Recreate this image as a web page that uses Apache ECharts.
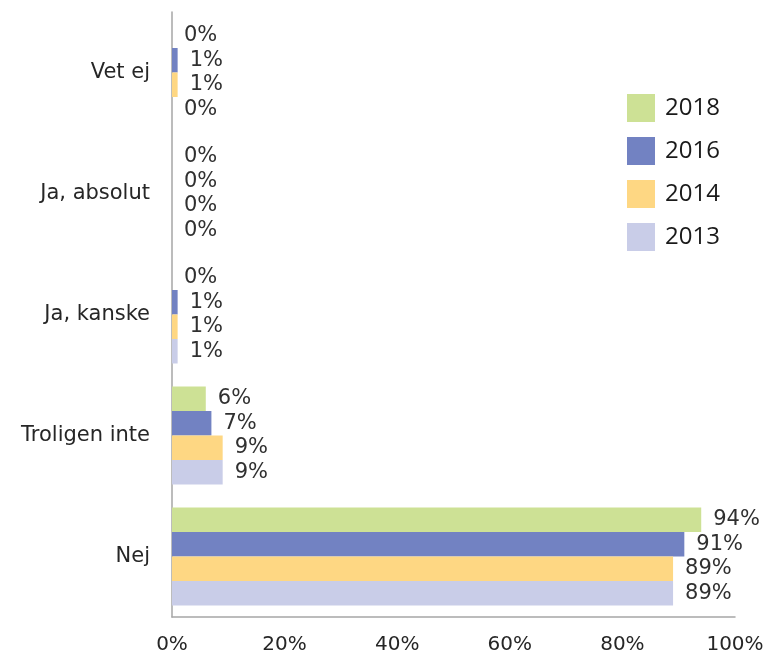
<!DOCTYPE html>
<html>
<head>
<meta charset="utf-8">
<script src="https://cdn.jsdelivr.net/npm/echarts@6/dist/echarts.min.js"></script>
<style>
  html, body { margin: 0; padding: 0; background: #fff; }
  #main { width: 769px; height: 656px; }
</style>
</head>
<body>
<div id="main"></div>
<script>
// svarsalternativ, uppifrån och ned
const categories = ["Vet ej", "Ja, absolut", "Ja, kanske", "Troligen inte", "Nej"];
const years = ["2018", "2016", "2014", "2013"];
const colors = ["#cde195", "#7282c2", "#fed783", "#c9cde8"];
// andel i procent per år
const v2018 = [0, 0, 0, 6, 94];
const v2016 = [1, 0, 1, 7, 91];
const v2014 = [1, 0, 1, 9, 89];
const v2013 = [0, 0, 1, 9, 89];
const xTicks = [0, 20, 40, 60, 80, 100];

const values = [v2018, v2016, v2014, v2013];
const font = "DejaVu Sans";

const chart = echarts.init(document.getElementById("main"));

const series = years.map((y, i) => ({
  name: y,
  type: "bar",
  data: values[i],
  barGap: "0%",
  barCategoryGap: "19%",
  itemStyle: { color: colors[i] },
  label: {
    show: true,
    position: "right",
    distance: 12,
    formatter: "{c}%",
    fontFamily: font,
    fontSize: 21,
    color: "#303030"
  }
}));

chart.setOption({
  animation: false,
  grid: { left: 172, right: 34, top: 12, bottom: 39 },
  legend: {
    data: years,
    orient: "vertical",
    left: 622,
    top: 89,
    itemWidth: 28,
    itemHeight: 28,
    itemGap: 15,
    icon: "rect",
    textStyle: { fontFamily: "Open Sans", fontSize: 24, color: "#1a1a1a", padding: [0, 0, 0, 5] }
  },
  xAxis: {
    type: "value",
    min: xTicks[0],
    max: xTicks[xTicks.length - 1],
    interval: xTicks[1] - xTicks[0],
    splitLine: { show: false },
    axisLine: { show: true, lineStyle: { color: "#a6a6a6", width: 1.5 } },
    axisTick: { show: false },
    axisLabel: {
      formatter: "{value}%",
      margin: 18,
      fontFamily: font,
      fontSize: 20,
      color: "#262626"
    }
  },
  yAxis: {
    type: "category",
    data: categories,
    inverse: true,
    axisLine: { show: true, lineStyle: { color: "#a6a6a6", width: 1.5 } },
    axisTick: { show: false },
    axisLabel: {
      margin: 22,
      fontFamily: font,
      fontSize: 21,
      color: "#262626"
    }
  },
  series: series
});
</script>
</body>
</html>
